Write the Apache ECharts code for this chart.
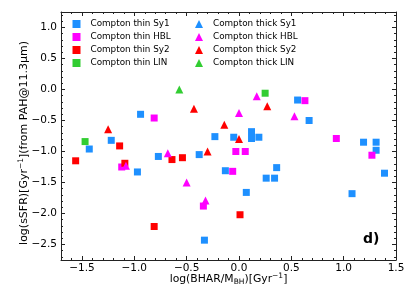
<!DOCTYPE html>
<html><head><meta charset="utf-8">
<script src="https://cdn.jsdelivr.net/npm/echarts@6/dist/echarts.min.js"></script>
<style>html,body{margin:0;padding:0;background:#fff}#c{width:415px;height:308px}</style>
</head><body><div id="c"></div>
<script>
var xMajorTicks = [-1.5, -1.0, -0.5, 0.0, 0.5, 1.0, 1.5];
var yMajorTicks = [-2.5, -2.0, -1.5, -1.0, -0.5, 0.0, 0.5, 1.0];

var thinSy1X = [-1.43,-1.22,-0.94,-0.97,-0.77,-0.38,-0.23,-0.13,-0.05,-0.33,0.07,0.12,0.12,0.19,0.26,0.34,0.36,0.56,0.67,1.08,1.19,1.31,1.31,1.39];
var thinSy1Y = [-0.96,-0.82,-0.40,-1.33,-1.08,-1.05,-0.76,-1.31,-0.77,-2.43,-1.66,-0.68,-0.79,-0.77,-1.43,-1.43,-1.26,-0.17,-0.50,-1.68,-0.85,-0.85,-0.98,-1.35];
var thinHBLX = [-0.81,-1.12,-0.34,-0.06,-0.03,0.06,0.63,0.93,1.27];
var thinHBLY = [-0.46,-1.25,-1.88,-1.32,-1.00,-1.00,-0.18,-0.79,-1.06];
var thinSy2X = [-1.56,-1.14,-1.09,-0.81,-0.64,-0.54,0.01];
var thinSy2Y = [-1.15,-0.91,-1.19,-2.21,-1.13,-1.10,-2.02];
var thinLINX = [-1.47,0.25];
var thinLINY = [-0.84,-0.06];
var thickSy1X = [];
var thickSy1Y = [];
var thickHBLX = [-0.68,-1.08,-0.50,-0.32,0.00,0.17,0.53];
var thickHBLY = [-1.03,-1.23,-1.50,-1.79,-0.38,-0.11,-0.43];
var thickSy2X = [-1.25,-0.43,-0.14,-0.30,0.00,0.27];
var thickSy2Y = [-0.64,-0.31,-0.57,-1.00,-0.80,-0.27];
var thickLINX = [-0.57];
var thickLINY = [0.00];

var seriesNames = ['Compton thin Sy1','Compton thin HBL','Compton thin Sy2','Compton thin LIN',
                   'Compton thick Sy1','Compton thick HBL','Compton thick Sy2','Compton thick LIN'];

function zip(a, b){ var r=[]; for (var i=0;i<a.length;i++) r.push([a[i], b[i]]); return r; }
function minorTicks(lo, hi, majors){
  var r=[]; for (var k=Math.round(lo*10); k<=Math.round(hi*10); k++){
    var v=k/10; var isMaj=false;
    for (var j=0;j<majors.length;j++) if (Math.abs(majors[j]-v)<1e-6) isMaj=true;
    if(!isMaj) r.push(v);
  } return r;
}
var XMIN=-1.7, XMAX=1.5, YMIN=-2.75, YMAX=1.25;
var xMinor = minorTicks(-1.7, 1.5, xMajorTicks);
var yMinor = minorTicks(-2.7, 1.2, yMajorTicks);

var FONT = 'DejaVu Sans';
var AX = '#222';
function fmt(v){ return (v<0?'\u2212':'') + Math.abs(v).toFixed(1); }

function axis(dim, pos, vals, len, labels, line){
  var a = {
    type:'value', position:pos, min: dim==='x'?XMIN:YMIN, max: dim==='x'?XMAX:YMAX,
    splitLine:{show:false},
    axisLine:{show:line, onZero:false, lineStyle:{color:AX, width:1}},
    axisTick:{show:true, inside:true, length:len, customValues:vals, lineStyle:{color:AX, width:1}},
    axisLabel:{show:labels, customValues:vals, formatter:fmt, color:'#000', fontFamily:FONT, fontSize:10.5, margin: dim==='x'?3:4}
  };
  return a;
}

var xAxes = [
  axis('x','bottom',xMajorTicks,4,true,true),
  axis('x','bottom',xMinor,2,false,false),
  axis('x','top',xMajorTicks,4,false,true),
  axis('x','top',xMinor,2,false,false)
];
xAxes[0].name = '{a|log(BHAR/M}{sub|BH}{a|)[Gyr}{sup|\u22121}{a|]}';
xAxes[0].nameLocation = 'middle';
xAxes[0].nameGap = 12;
xAxes[0].nameMoveOverlap = false;
xAxes[0].nameTextStyle = {rich:{
  a:{fontFamily:FONT,fontSize:10.8,color:'#000',lineHeight:14},
  sub:{fontFamily:FONT,fontSize:7.5,color:'#000',lineHeight:7,verticalAlign:'bottom'},
  sup:{fontFamily:FONT,fontSize:7.5,color:'#000',lineHeight:7,verticalAlign:'top'}
}};
var yAxes = [
  axis('y','left',yMajorTicks,4,true,true),
  axis('y','left',yMinor,2,false,false),
  axis('y','right',yMajorTicks,4,false,true),
  axis('y','right',yMinor,2,false,false)
];
yAxes[0].name = '{a|log(sSFR)[Gyr}{sup|\u22121}{a|](from PAH@11.3\u03bcm)}';
yAxes[0].nameLocation = 'middle';
yAxes[0].nameGap = 30;
yAxes[0].nameMoveOverlap = false;
yAxes[0].nameTextStyle = {padding:[0,14,0,0], rich:{
  a:{fontFamily:FONT,fontSize:11,color:'#000',lineHeight:14},
  sup:{fontFamily:FONT,fontSize:7.5,color:'#000',lineHeight:7,verticalAlign:'top'}
}};

var colors = ['#1E90FF','#FF00FF','#FF0000','#32CD32'];
var xs = [thinSy1X,thinHBLX,thinSy2X,thinLINX,thickSy1X,thickHBLX,thickSy2X,thickLINX];
var ys = [thinSy1Y,thinHBLY,thinSy2Y,thinLINY,thickSy1Y,thickHBLY,thickSy2Y,thickLINY];
var series = [];
for (var i=0;i<8;i++){
  var thick = i>=4;
  series.push({
    name: seriesNames[i], type:'scatter', xAxisIndex:0, yAxisIndex:0,
    symbol: thick?'triangle':'rect', symbolSize: thick?[8,8]:7,
    itemStyle:{color:colors[i%4], opacity:1},
    data: zip(xs[i], ys[i]), z: 3
  });
}

var legendBase = {orient:'vertical', itemWidth:8, itemHeight:8, itemGap:3, padding:0,
  textStyle:{fontFamily:FONT, fontSize:8.8, color:'#000', lineHeight:10, padding:[0,0,0,5]},
  selectedMode:false};
var chart = echarts.init(document.getElementById('c'), null, {renderer:'canvas'});
chart.setOption({
  animation:false,
  backgroundColor:'#fff',
  grid:{left:61, right:19, top:12, bottom:48, containLabel:false},
  xAxis: xAxes, yAxis: yAxes,
  legend:[
    Object.assign({}, legendBase, {left:72.5, top:19, data:seriesNames.slice(0,4)}),
    Object.assign({}, legendBase, {left:195, top:19, data:seriesNames.slice(4,8)})
  ],
  series: series,
  graphic:[{type:'text', left:363, top:232, style:{text:'d)', font:'bold 14px "DejaVu Sans"', fill:'#000'}}]
});
</script></body></html>
